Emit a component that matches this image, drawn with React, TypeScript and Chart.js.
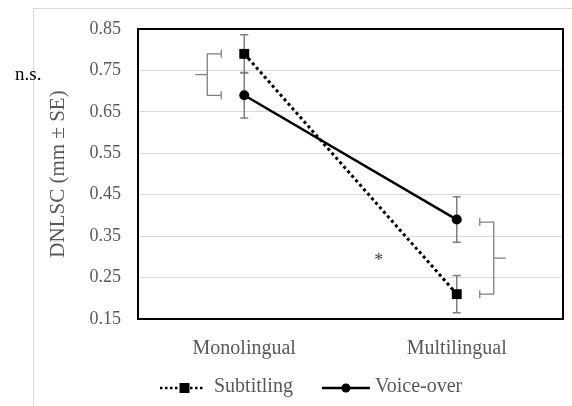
import React, { useEffect, useRef } from "react";
import { Chart, registerables } from "chart.js";

Chart.register(...registerables);

const categories = ["Monolingual", "Multilingual"];
const subtitling = [0.79, 0.21];
const subtitlingSE = [0.046, 0.045];
const voiceOver = [0.69, 0.39];
const voiceOverSE = [0.055, 0.055];
const yTicks = [0.15, 0.25, 0.35, 0.45, 0.55, 0.65, 0.75, 0.85];
const seriesNames = ["Subtitling", "Voice-over"];
const annotations = ["n.s.", "*"];

const SERIF = "'Liberation Serif', 'Times New Roman', serif";
const GRAY = "#595959";

export default function App() {
  const ref = useRef<HTMLCanvasElement | null>(null);

  useEffect(() => {
    document.body.style.margin = "0";
    const canvas = ref.current;
    if (!canvas) return;

    const decor = {
      id: "decor",
      beforeDraw(chart: any) {
        const ctx = chart.ctx;
        ctx.save();
        ctx.strokeStyle = "#d9d9d9";
        ctx.lineWidth = 1;
        ctx.strokeRect(33.5, 8.5, 600, 420);
        ctx.restore();
      },
      beforeDatasetsDraw(chart: any) {
        const ctx = chart.ctx;
        const xs = chart.scales.x;
        const ys = chart.scales.y;
        ctx.save();
        ctx.strokeStyle = "#7f7f7f";
        ctx.lineWidth = 1.5;
        const series = [
          [subtitling, subtitlingSE],
          [voiceOver, voiceOverSE],
        ];
        series.forEach(([vals, errs]) => {
          vals.forEach((v: number, i: number) => {
            const x = xs.getPixelForValue(i);
            const yT = ys.getPixelForValue(v + errs[i]);
            const yB = ys.getPixelForValue(v - errs[i]);
            ctx.beginPath();
            ctx.moveTo(x, yT);
            ctx.lineTo(x, yB);
            ctx.moveTo(x - 4, yT);
            ctx.lineTo(x + 4, yT);
            ctx.moveTo(x - 4, yB);
            ctx.lineTo(x + 4, yB);
            ctx.stroke();
          });
        });
        ctx.restore();
      },
      afterDraw(chart: any) {
        const ctx = chart.ctx;
        const xs = chart.scales.x;
        const ys = chart.scales.y;
        const a = chart.chartArea;
        ctx.save();
        ctx.strokeStyle = "#000";
        ctx.lineWidth = 2;
        ctx.strokeRect(a.left, a.top, a.right - a.left, a.bottom - a.top);

        ctx.strokeStyle = "#7f7f7f";
        ctx.lineWidth = 1.3;
        const drawBracket = (cx: number, dir: number, v1: number, v2: number) => {
          const y1 = ys.getPixelForValue(v1);
          const y2 = ys.getPixelForValue(v2);
          const xv = cx + dir * 37;
          const xe = cx + dir * 23;
          const xm = cx + dir * 49;
          ctx.beginPath();
          ctx.moveTo(xe, y1);
          ctx.lineTo(xv, y1);
          ctx.lineTo(xv, y2);
          ctx.lineTo(xe, y2);
          ctx.moveTo(xe, y1 - 4);
          ctx.lineTo(xe, y1 + 4);
          ctx.moveTo(xe, y2 - 4);
          ctx.lineTo(xe, y2 + 4);
          ctx.moveTo(xv, (y1 + y2) / 2);
          ctx.lineTo(xm, (y1 + y2) / 2);
          ctx.stroke();
          return (y1 + y2) / 2;
        };
        const x0 = xs.getPixelForValue(0);
        const x1 = xs.getPixelForValue(1);
        const ym0 = drawBracket(x0, -1, subtitling[0], voiceOver[0]);
        const ym1 = drawBracket(x1, 1, voiceOver[1] - 0.006, subtitling[1]);

        ctx.textBaseline = "middle";
        ctx.fillStyle = "#000";
        ctx.font = `19px ${SERIF}`;
        ctx.textAlign = "left";
        ctx.fillText(annotations[0], 15, ym0);
        ctx.fillStyle = "#404040";
        ctx.font = `18px ${SERIF}`;
        ctx.textAlign = "center";
        ctx.fillText(annotations[1], x1 - 78, ym1 + 3);

        const ly = 388;
        ctx.font = `20px ${SERIF}`;
        ctx.textAlign = "left";
        let x = 160;
        chart.data.datasets.forEach((ds: any, i: number) => {
          const lineLen = i === 0 ? 43 : 48;
          ctx.strokeStyle = "#000";
          ctx.lineWidth = i === 0 ? 2.5 : ds.borderWidth;
          ctx.setLineDash(i === 0 ? [2.5, 2.5] : []);
          ctx.beginPath();
          ctx.moveTo(x, ly);
          ctx.lineTo(x + lineLen, ly);
          ctx.stroke();
          ctx.setLineDash([]);
          ctx.fillStyle = "#000";
          const cx = x + lineLen / 2 + (i === 0 ? 3 : 0);
          if (ds.pointStyle === "rect") {
            ctx.fillRect(cx - 5, ly - 5, 10, 10);
          } else {
            ctx.beginPath();
            ctx.arc(cx, ly, 4.5, 0, Math.PI * 2);
            ctx.fill();
          }
          const tx = x + lineLen + (i === 0 ? 11 : 5);
          ctx.fillStyle = GRAY;
          ctx.fillText(ds.label, tx, ly - 1);
          x = tx + ctx.measureText(ds.label).width + 29;
        });
        ctx.restore();
      },
    };

    const chart = new Chart(canvas, {
      type: "line",
      data: {
        labels: categories,
        datasets: [
          {
            label: seriesNames[0],
            data: subtitling,
            borderColor: "#000",
            backgroundColor: "#000",
            borderWidth: 3,
            borderDash: [3, 3],
            pointStyle: "rect",
            pointRadius: 7,
            pointBorderWidth: 0,
            fill: false,
          },
          {
            label: seriesNames[1],
            data: voiceOver,
            borderColor: "#000",
            backgroundColor: "#000",
            borderWidth: 2.5,
            pointStyle: "circle",
            pointRadius: 5,
            pointBorderWidth: 0,
            fill: false,
          },
        ],
      },
      options: {
        responsive: false,
        animation: false,
        layout: { padding: { top: 29, right: 9, left: 0, bottom: 0 } },
        plugins: {
          legend: { display: false },
          tooltip: { enabled: false },
        },
        scales: {
          x: {
            type: "category",
            offset: true,
            grid: { display: false },
            border: { display: false },
            ticks: {
              color: GRAY,
              font: { family: SERIF, size: 20 },
              padding: 10,
            },
            afterFit(scale: any) {
              scale.height = 87;
            },
          },
          y: {
            min: yTicks[0],
            max: yTicks[yTicks.length - 1],
            afterBuildTicks(scale: any) {
              scale.ticks = yTicks.map((v) => ({ value: v }));
            },
            grid: { color: "#d9d9d9", lineWidth: 1, drawTicks: false },
            border: { display: false },
            ticks: {
              color: GRAY,
              font: { family: SERIF, size: 18 },
              padding: 17,
              callback: (v: any) => Number(v).toFixed(2),
            },
            title: {
              display: true,
              text: "DNLSC (mm ± SE)",
              color: GRAY,
              font: { family: SERIF, size: 21 },
              padding: { top: 46, bottom: 0 },
            },
            afterFit(scale: any) {
              scale.width = 138;
            },
          },
        },
      },
      plugins: [decor],
    });

    return () => chart.destroy();
  }, []);

  return (
    <div style={{ width: 572, height: 406 }}>
      <canvas ref={ref} width={572} height={406} />
    </div>
  );
}
